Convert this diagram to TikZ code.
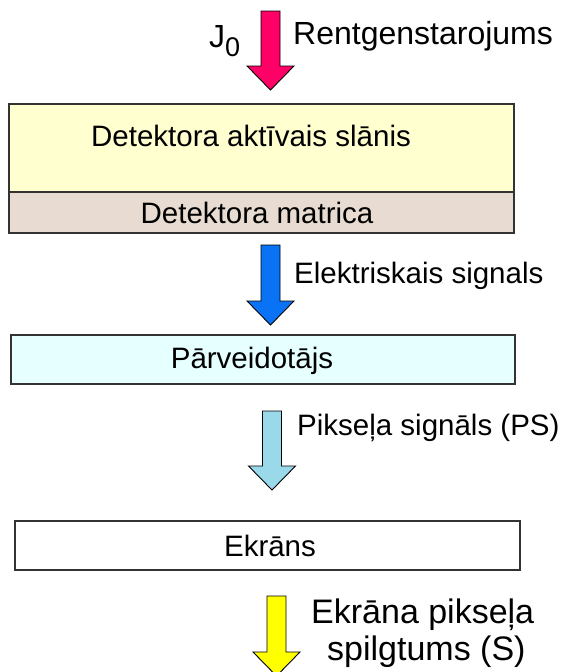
\documentclass[tikz,border=0pt]{standalone}
\usepackage{fontspec}
\setmainfont{Liberation Sans}
\usepackage{tikz}
\usetikzlibrary{positioning, calc}
\definecolor{raypink}{RGB}{255, 0, 102}
\definecolor{signalblue}{RGB}{10, 115, 245}
\definecolor{pixelblue}{RGB}{153, 217, 234}
\definecolor{screenyellow}{RGB}{255, 255, 0}
\definecolor{layeryellow}{RGB}{255, 255, 208}
\definecolor{matrixtan}{RGB}{232, 220, 210}
\definecolor{convcyan}{RGB}{230, 255, 255}

\begin{document}
\begin{tikzpicture}[x=1pt, y=-1pt,
    every node/.style={font=\fontsize{29.5}{34}\selectfont, inner sep=0pt},
    boxframe/.style={draw=black!80, line width=1.3pt},
    label/.style={anchor=base west},
    biglabel/.style={anchor=base west, font=\fontsize{32}{36}\selectfont},
    lowlabel/.style={anchor=base west, font=\fontsize{34}{38}\selectfont}]

    \useasboundingbox (0,0) rectangle (565,672);
    \clip (0,0) rectangle (565,672);

    % Detector layers
    \draw[boxframe, fill=layeryellow] (9,104) rectangle (514,192);
    \draw[boxframe, fill=matrixtan] (9,192) rectangle (514,233);
    \node[anchor=base] (active) at (251,146) {Detektora aktīvais slānis};
    \node[anchor=base] (matrix) at (257,223) {Detektora matrica};

    % Converter
    \draw[boxframe, fill=convcyan] (11,335) rectangle (515,384);
    \node[anchor=base] (conv) at (252,368) {Pārveidotājs};

    % Screen
    \draw[boxframe, fill=white] (15,521) rectangle (520,570);
    \node[anchor=base] (screen) at (270,556) {Ekrāns};

    % Block arrows
    \foreach \cx/\ytop/\ybase/\col in {
        270.5/11/66/raypink,
        270.5/245/301/signalblue,
        272/411/466/pixelblue,
        276.5/596/652/screenyellow}{
      \filldraw[fill=\col, draw=black, line width=0.9pt, line join=miter]
        (\cx-9.5,\ytop) -- (\cx+9.5,\ytop) -- (\cx+9.5,\ybase)
        -- (\cx+23.5,\ybase) -- (\cx,\ybase+24) -- (\cx-23.5,\ybase)
        -- (\cx-9.5,\ybase) -- cycle;
    }

    % Labels of the arrows
    \node[biglabel] (jnull) at (209,47)
      {J\raisebox{-9pt}{\fontsize{27}{27}\selectfont 0}};
    \node[biglabel] (ray) at (293,44) {Rentgenstarojums};
    \node[label] (elsig) at (294,283) {Elektriskais signals};
    \node[label] (pxsig) at (297,435) {Pikseļa signāls (PS)};
    \node[lowlabel] (bright1) at (311,623) {Ekrāna pikseļa};
    \node[lowlabel] (bright2) at (327,660) {spilgtums (S)};

  \end{tikzpicture}
\end{document}
